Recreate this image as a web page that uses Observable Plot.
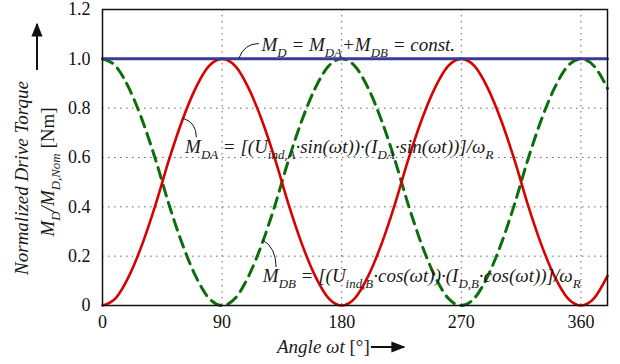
<!DOCTYPE html>
<html><head><meta charset="utf-8">
<script src="https://cdn.jsdelivr.net/npm/d3@7"></script>
<script src="https://cdn.jsdelivr.net/npm/@observablehq/plot@0.6"></script>
<style>body{margin:0;background:#fff}</style>
</head><body><div id="chart"></div>
<script>
// Data (angle in degrees, normalized torque)
const angles = [0,10,20,30,40,50,60,70,80,90,100,110,120,130,140,150,160,170,180,190,200,210,220,230,240,250,260,270,280,290,300,310,320,330,340,350,360,370,380];
const torqueA = [0,0.03,0.12,0.25,0.41,0.59,0.75,0.88,0.97,1.0,0.97,0.88,0.75,0.59,0.41,0.25,0.12,0.03,0,0.03,0.12,0.25,0.41,0.59,0.75,0.88,0.97,1.0,0.97,0.88,0.75,0.59,0.41,0.25,0.12,0.03,0,0.03,0.12];
const torqueB = [1.0,0.97,0.88,0.75,0.59,0.41,0.25,0.12,0.03,0,0.03,0.12,0.25,0.41,0.59,0.75,0.88,0.97,1.0,0.97,0.88,0.75,0.59,0.41,0.25,0.12,0.03,0,0.03,0.12,0.25,0.41,0.59,0.75,0.88,0.97,1.0,0.97,0.88];
const torqueSum = [1.0,1.0];
const sumAngles = [0,380];
const xTicks = [0,90,180,270,360];
const yTicks = [0,0.2,0.4,0.6,0.8,1.0,1.2];
const xGrid = [90,180,270,360];
const yGrid = [0.2,0.4,0.6,0.8];

// annotation anchors (data coordinates)
const annSum = {x:120, y:1.03, leader:[[103,1.0],[107,1.06],[118,1.06]]};
const annA = {x:62.5, y:0.617, leader:[[61,0.757],[71,0.74],[71,0.68]]};
const annB = {x:121, y:0.093, leader:[[121,0.264],[131,0.231],[131,0.154]]};

const dataA = angles.map((a,i)=>({a, v:torqueA[i]}));
const dataB = angles.map((a,i)=>({a, v:torqueB[i]}));
const dataS = sumAngles.map((a,i)=>({a, v:torqueSum[i]}));

const FONT = "Liberation Serif";

const plot = Plot.plot({
  width: 620, height: 364,
  marginLeft: 102, marginRight: 13, marginTop: 9, marginBottom: 59,
  style: {fontSize: "18px", color: "#111", background: "#fff"},
  x: {domain: [0,380], ticks: xTicks, tickSize: 0, tickPadding: 10, label: null},
  y: {domain: [0,1.2], ticks: yTicks, tickSize: 0, tickPadding: 12, label: null,
      tickFormat: d => d === 0 ? "0" : d.toFixed(1)},
  marks: [
    Plot.ruleX(xGrid, {stroke: "#666", strokeDasharray: "1.5,4.5", strokeWidth: 1}),
    Plot.ruleY(yGrid, {stroke: "#666", strokeDasharray: "1.5,4.5", strokeWidth: 1}),
    Plot.line(dataB, {x: "a", y: "v", stroke: "#0a6e0a", strokeWidth: 3, strokeDasharray: "11,7", curve: "monotone-x"}),
    Plot.line(dataA, {x: "a", y: "v", stroke: "#d90000", strokeWidth: 2.6, curve: "monotone-x"}),
    Plot.line(dataS, {x: "a", y: "v", stroke: "#3a3a9a", strokeWidth: 3}),
    Plot.frame({stroke: "#111", strokeWidth: 1.5})
  ]
});
document.getElementById("chart").appendChild(plot);

const sx = plot.scale("x"), sy = plot.scale("y");
const svg = d3.select(plot);
svg.append("defs").html('<marker id="arr" viewBox="0 0 10 10" refX="9" refY="5" markerWidth="7" markerHeight="7" orient="auto-start-reverse"><path d="M0,1 L10,5 L0,9 z" fill="#111"/></marker>');

function rich(x, y, parts, size, opts={}) {
  const t = svg.append("text").attr("x", x).attr("y", y)
    .attr("font-size", size).attr("text-anchor", opts.anchor || "start")
    .attr("fill", "#1a1a1a");
  if (opts.transform) t.attr("transform", opts.transform);
  let shift = 0;
  for (const [s, kind, style] of parts) {
    const ts = t.append("tspan").text(s).attr("font-style", style || "italic");
    const target = kind === "sub" ? size*0.3 : 0;
    if (target !== shift) { ts.attr("dy", target - shift); shift = target; }
    if (kind === "sub") ts.attr("font-size", size*0.68);
  }
  return t;
}
function leader(pts) {
  const p = pts.map(([a,v]) => [sx.apply(a), sy.apply(v)]);
  svg.append("path").attr("d", `M${p[0][0]},${p[0][1]} Q${p[1][0]},${p[1][1]} ${p[2][0]},${p[2][1]}`)
    .attr("fill","none").attr("stroke","#111").attr("stroke-width",1);
}

rich(sx.apply(annSum.x), sy.apply(annSum.y), [["M"],["D","sub"],[" = M"],["DA","sub"],["+M"],["DB","sub"],[" = const."]], 19);
leader(annSum.leader);
rich(sx.apply(annA.x), sy.apply(annA.y), [["M"],["DA","sub"],[" = [(U"],["ind,A","sub"],["·sin(ωt))·(I"],["DA","sub"],["·sin(ωt))]/ω"],["R","sub"]], 19);
leader(annA.leader);
rich(sx.apply(annB.x), sy.apply(annB.y), [["M"],["DB","sub"],[" = [(U"],["ind,B","sub"],["·cos(ωt))·(I"],["D,B","sub"],["·cos(ωt))]/ω"],["R","sub"]], 19);
leader(annB.leader);

// axis titles
rich(0, 0, [["Normalized Drive Torque"]], 19, {transform: "translate(28,178) rotate(-90)", anchor: "middle"});
rich(0, 0, [["M"],["D","sub"],["/M"],["D,Nom","sub"],[" [Nm]", null, "normal"]], 19, {transform: "translate(54,172) rotate(-90)", anchor: "middle"});
svg.append("line").attr("x1",37).attr("y1",70).attr("x2",37).attr("y2",24)
  .attr("stroke","#111").attr("stroke-width",2).attr("marker-end","url(#arr)");
rich(277, 353, [["Angle ωt"],[" [°]", null, "normal"]], 19);
svg.append("line").attr("x1",371).attr("y1",347).attr("x2",404).attr("y2",347)
  .attr("stroke","#111").attr("stroke-width",2).attr("marker-end","url(#arr)");

// prefer the serif face on every text element
plot.style.setProperty("font-family", FONT, "important");
plot.querySelectorAll("text, tspan, g").forEach(el => {
  el.setAttribute("font-family", FONT);
  el.style.setProperty("font-family", FONT, "important");
});
</script>
</body></html>
